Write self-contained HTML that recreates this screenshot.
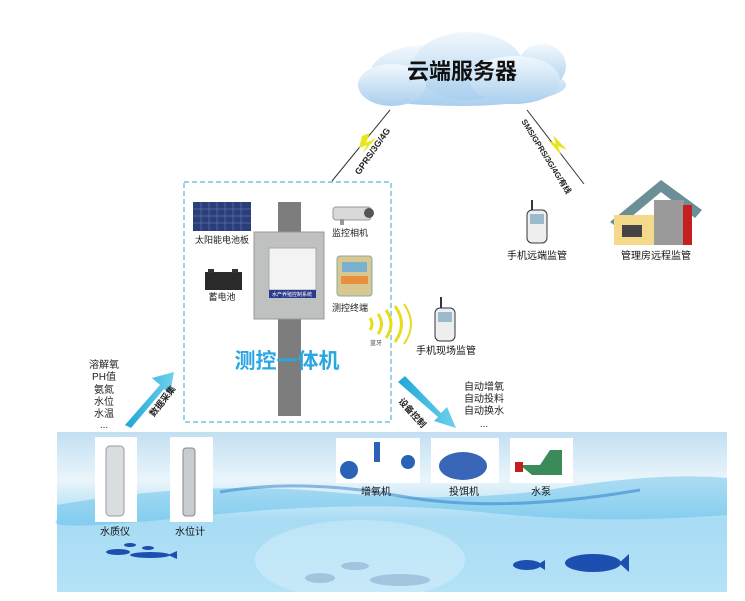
<!DOCTYPE html>
<html><head><meta charset="utf-8"><style>
html,body{margin:0;padding:0;background:#fff;}
svg{display:block;font-family:"Liberation Sans","Noto Sans CJK SC",sans-serif;}
</style></head><body>
<svg width="745" height="601" viewBox="0 0 745 601" xmlns="http://www.w3.org/2000/svg">
<defs>
<linearGradient id="water" x1="0" y1="0" x2="0" y2="1">
<stop offset="0" stop-color="#c2dff2"/><stop offset="0.3" stop-color="#eaf5fb"/><stop offset="0.55" stop-color="#a8dcf4"/><stop offset="1" stop-color="#b4e2f7"/>
</linearGradient>
<linearGradient id="cloud" x1="0" y1="0" x2="0" y2="1">
<stop offset="0" stop-color="#f2f8fd"/><stop offset="1" stop-color="#a9cfee"/>
</linearGradient>
<linearGradient id="arr" x1="0" y1="0" x2="1" y2="0">
<stop offset="0" stop-color="#1ea6d6"/><stop offset="1" stop-color="#6fd0ee"/>
</linearGradient>
</defs>
<!-- water -->
<rect x="57" y="432" width="670" height="160" fill="url(#water)"/>
<path d="M57 505 Q200 480 330 492 T560 488 T727 478 L727 515 Q600 525 480 512 T200 516 T57 520Z" fill="#5bbde9" opacity="0.45"/>
<path d="M220 492 Q300 478 400 496 T640 490" stroke="#1b6fc0" stroke-width="3" fill="none" opacity="0.45"/>
<ellipse cx="360" cy="560" rx="105" ry="40" fill="#ffffff" opacity="0.25"/>
<!-- fish -->
<g fill="#1c4fb0">
<ellipse cx="118" cy="552" rx="12" ry="3"/><ellipse cx="150" cy="555" rx="20" ry="3"/><ellipse cx="130" cy="545" rx="6" ry="2"/><ellipse cx="148" cy="548" rx="6" ry="2"/>
<ellipse cx="527" cy="565" rx="14" ry="5"/><ellipse cx="593" cy="563" rx="28" ry="9"/>
<path d="M537 565 l8 -5 v10z M619 563 l10 -9 v18z M168 555 l9 -4 v8z"/>
</g>
<g fill="#8aaecf" opacity="0.6"><ellipse cx="355" cy="566" rx="14" ry="4"/><ellipse cx="320" cy="578" rx="15" ry="5"/><ellipse cx="400" cy="580" rx="30" ry="6"/></g>
<!-- cloud -->
<g fill="url(#cloud)">
<ellipse cx="462" cy="85" rx="104" ry="21"/><ellipse cx="425" cy="75" rx="55" ry="30"/><ellipse cx="468" cy="66" rx="55" ry="34"/><ellipse cx="542" cy="66" rx="24" ry="22"/><ellipse cx="392" cy="85" rx="34" ry="21"/><ellipse cx="515" cy="80" rx="45" ry="24"/>
</g>
<text x="462" y="79" font-size="22" font-weight="bold" text-anchor="middle" fill="#111">云端服务器</text>
<!-- links -->
<line x1="390" y1="110" x2="332" y2="181" stroke="#333" stroke-width="1"/>
<path d="M362 136 l8 -3 l-4 10 l10 -5 l-14 16 l5 -9 l-8 3z" fill="#e6e61a"/>
<text x="375" y="153" font-size="9" font-weight="bold" fill="#222" text-anchor="middle" transform="rotate(-55 375 153)">GPRS/3G/4G</text>
<line x1="527" y1="110" x2="584" y2="184" stroke="#333" stroke-width="1"/>
<path d="M548 140 l8 4 l-3 -9 l14 15 l-9 -4 l3 9z" fill="#e6e61a"/>
<text x="544" y="158" font-size="8" font-weight="bold" fill="#222" text-anchor="middle" transform="rotate(58 544 158)">SMS/GPRS/3G/4G/有线</text>
<!-- dashed box -->
<rect x="184" y="182" width="207" height="240" fill="none" stroke="#5bb5d6" stroke-width="1.2" stroke-dasharray="5 3"/>
<rect x="278" y="202" width="23" height="214" fill="#7d7d7d"/>
<rect x="254" y="232" width="70" height="87" fill="#bfc0c0" stroke="#999"/>
<rect x="269" y="248" width="47" height="42" fill="#f3f3f3" stroke="#aaa"/>
<rect x="269" y="290" width="47" height="8" fill="#2b3a8c"/>
<text x="292" y="296" font-size="5" fill="#fff" text-anchor="middle">水产养殖控制系统</text>
<!-- solar -->
<rect x="193" y="202" width="58" height="29" fill="#2b3e7a"/>
<g stroke="#6f86c4" stroke-width="0.5"><path d="M193 209h58M193 216h58M193 223h58M201 202v29M209 202v29M217 202v29M225 202v29M233 202v29M241 202v29"/></g>
<text x="222" y="243" font-size="9" text-anchor="middle" fill="#222">太阳能电池板</text>
<rect x="205" y="272" width="37" height="18" fill="#2a2a2a"/><rect x="208" y="269" width="6" height="4" fill="#333"/><rect x="232" y="269" width="6" height="4" fill="#333"/>
<text x="222" y="300" font-size="9" text-anchor="middle" fill="#222">蓄电池</text>
<rect x="333" y="207" width="38" height="13" rx="3" fill="#d9d9d9" stroke="#999"/><circle cx="369" cy="213" r="5" fill="#555"/><rect x="340" y="219" width="4" height="6" fill="#999"/>
<text x="350" y="236" font-size="9" text-anchor="middle" fill="#222">监控相机</text>
<rect x="337" y="256" width="35" height="40" rx="3" fill="#d6c890" stroke="#8aa"/><rect x="342" y="262" width="25" height="10" fill="#7ab0d0"/><rect x="341" y="276" width="27" height="8" fill="#e89040"/>
<text x="350" y="311" font-size="9" text-anchor="middle" fill="#222">测控终端</text>
<!-- bluetooth -->
<g fill="none" stroke="#e6dc20" stroke-width="3">
<path d="M370 318 q4 6 0 12"/><path d="M378 314 q7 10 0 20"/><path d="M386 310 q10 14 0 28"/><path d="M395 306 q13 18 0 36"/><path d="M404 304 q14 20 0 40" stroke-width="2"/>
</g>
<text x="376" y="345" font-size="6" text-anchor="middle" fill="#444">蓝牙</text>
<!-- phones -->
<g><rect x="435" y="308" width="20" height="33" rx="5" fill="#eee" stroke="#334"/><rect x="438" y="312" width="14" height="10" fill="#9bc"/><line x1="441" y1="308" x2="441" y2="297" stroke="#334" stroke-width="2"/></g>
<text x="446" y="354" font-size="10" text-anchor="middle" fill="#111">手机现场监管</text>
<g><rect x="527" y="210" width="20" height="33" rx="5" fill="#eee" stroke="#334"/><rect x="530" y="214" width="14" height="10" fill="#9bc"/><line x1="532" y1="210" x2="532" y2="200" stroke="#334" stroke-width="2"/></g>
<text x="537" y="259" font-size="10" text-anchor="middle" fill="#111">手机远端监管</text>
<!-- house -->
<path d="M610 222 L661 180 L702 210 L695 218 L661 192 L618 228Z" fill="#6a8f96"/>
<rect x="614" y="215" width="40" height="30" fill="#f5d98a"/><rect x="654" y="200" width="30" height="45" fill="#9a9a9a"/><rect x="683" y="205" width="9" height="40" fill="#c52020"/>
<rect x="622" y="225" width="20" height="12" fill="#444"/>
<text x="656" y="259" font-size="10" text-anchor="middle" fill="#111">管理房远程监管</text>
<text x="287" y="368" font-size="21" font-weight="bold" text-anchor="middle" fill="#2aa6e0">测控一体机</text>
<!-- arrows -->
<path d="M125 425 L160 385 L152 378 L174 372 L170 394 L164 389 L131 428Z" fill="url(#arr)"/>
<text x="165" y="403" font-size="9" font-weight="bold" fill="#222" text-anchor="middle" transform="rotate(-52 165 403)">数据采集</text>
<path d="M398 382 L405 376 L441 413 L447 407 L456 428 L434 421 L438 417Z" fill="url(#arr)"/>
<text x="410" y="415" font-size="9" font-weight="bold" fill="#222" text-anchor="middle" transform="rotate(48 410 415)">设备控制</text>
<g font-size="10" fill="#222" text-anchor="middle">
<text x="104" y="368">溶解氧</text><text x="104" y="380">PH值</text><text x="104" y="393">氨氮</text><text x="104" y="405">水位</text><text x="104" y="417">水温</text><text x="104" y="428">...</text>
<text x="484" y="390">自动增氧</text><text x="484" y="402">自动投料</text><text x="484" y="414">自动换水</text><text x="484" y="427">...</text>
</g>
<!-- devices -->
<rect x="95" y="437" width="42" height="85" fill="#fff"/><rect x="106" y="446" width="18" height="70" rx="4" fill="#d9dde0" stroke="#999"/>
<rect x="170" y="437" width="43" height="85" fill="#fff"/><rect x="183" y="448" width="12" height="68" rx="3" fill="#c8ccd0" stroke="#888"/>
<text x="115" y="535" font-size="10" text-anchor="middle" fill="#111">水质仪</text>
<text x="190" y="535" font-size="10" text-anchor="middle" fill="#111">水位计</text>
<rect x="336" y="438" width="84" height="45" fill="#fff"/><circle cx="349" cy="470" r="9" fill="#2a62b8"/><circle cx="408" cy="462" r="7" fill="#2a62b8"/><rect x="374" y="442" width="6" height="20" fill="#2a62b8"/>
<rect x="431" y="438" width="68" height="45" fill="#fff"/><ellipse cx="463" cy="466" rx="24" ry="14" fill="#3a66b8"/>
<rect x="510" y="438" width="63" height="45" fill="#fff"/><path d="M520 465 h20 l10 -15 h12 v25 h-30z" fill="#3a8a5a"/><rect x="515" y="462" width="8" height="10" fill="#c02020"/>
<text x="376" y="495" font-size="10" text-anchor="middle" fill="#111">增氧机</text>
<text x="464" y="495" font-size="10" text-anchor="middle" fill="#111">投饵机</text>
<text x="541" y="495" font-size="10" text-anchor="middle" fill="#111">水泵</text>
</svg>
</body></html>
